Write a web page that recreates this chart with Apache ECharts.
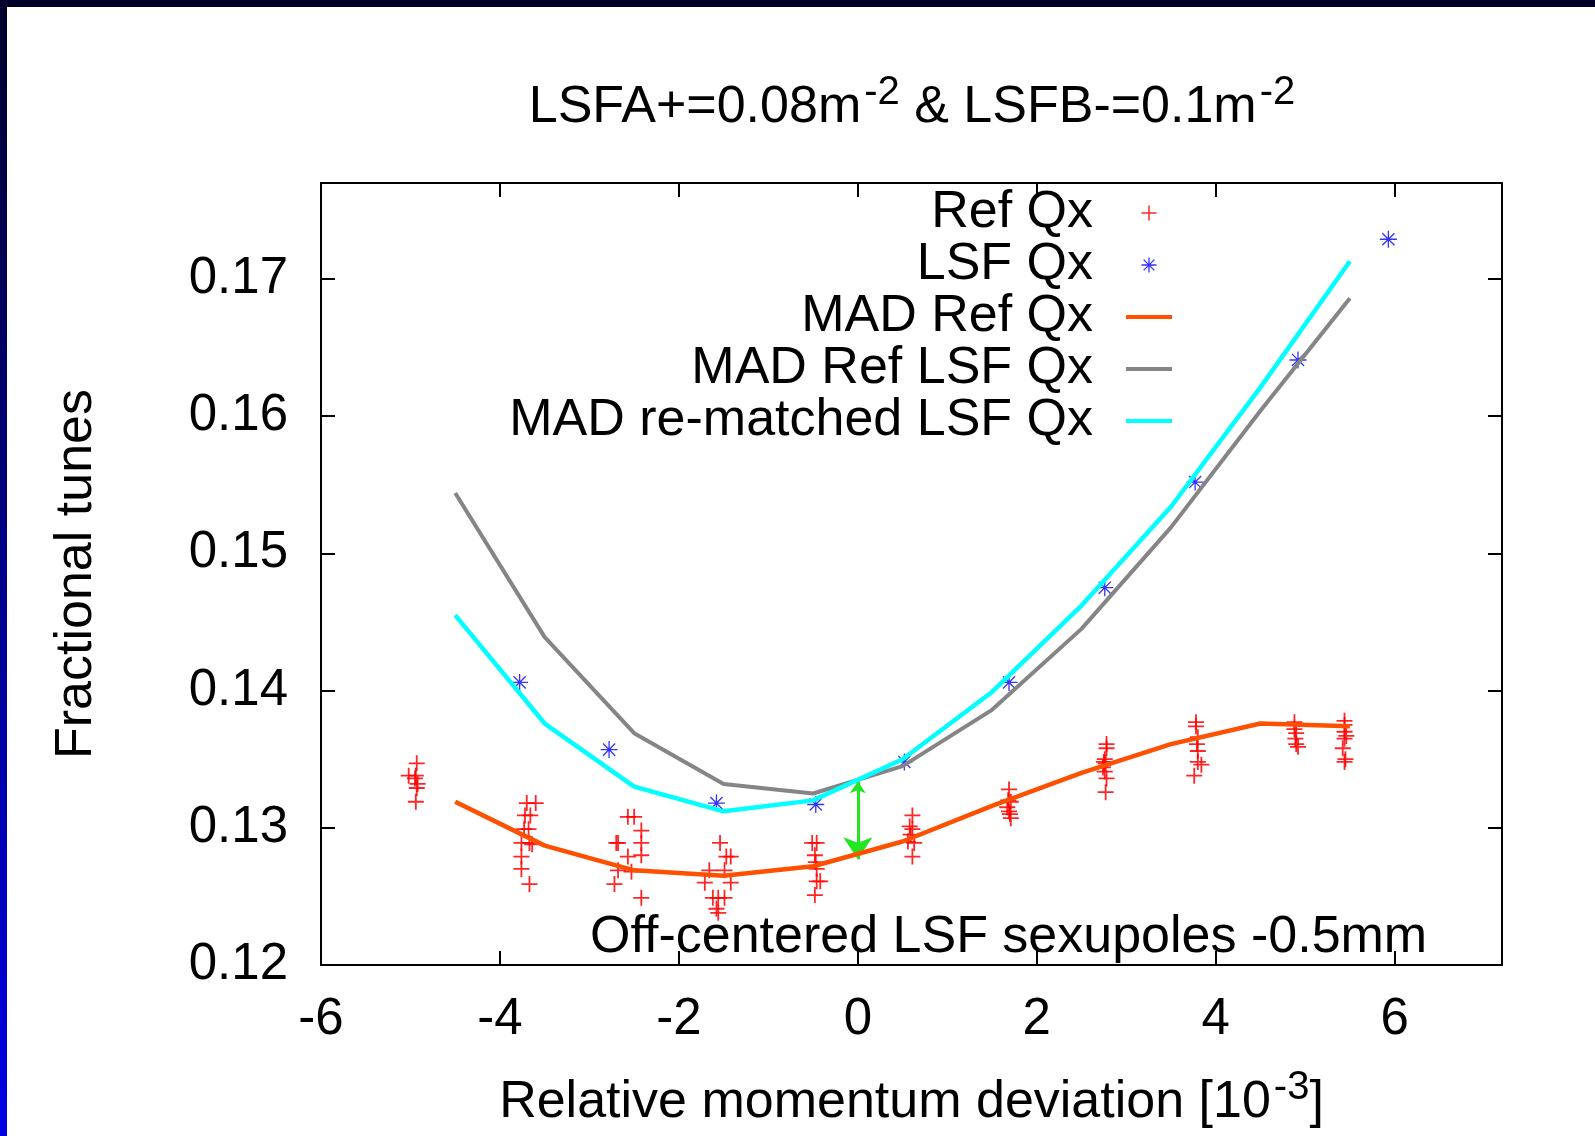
<!DOCTYPE html>
<html>
<head>
<meta charset="utf-8">
<title>LSF Qx</title>
<script src="https://cdn.jsdelivr.net/npm/echarts@6/dist/echarts.min.js"></script>
<style>
html, body { margin: 0; padding: 0; background: #fff; }
#chart { position: absolute; left: 0; top: 0; width: 1595px; height: 1136px; }
.band-top { position: absolute; left: 0; top: 0; width: 1595px; height: 7px; background: #00002b; z-index: 2; }
.band-left { position: absolute; left: 0; top: 0; width: 7px; height: 1136px; background: linear-gradient(#00002b, #0000e6); z-index: 2; }
</style>
</head>
<body>
<div id="chart"></div>
<div class="band-top"></div>
<div class="band-left"></div>
<script>
// momentum deviation of the MAD model points [10^-3]
const xModel = [-4.5, -3.5, -2.5, -1.5, -0.5, 0.5, 1.5, 2.5, 3.5, 4.5, 5.5];
const madRefQx = [0.1319, 0.1287, 0.1269, 0.1265, 0.1272, 0.1290, 0.1316, 0.1340, 0.1361, 0.1376, 0.1374];
const madRefLsfQx = [0.1544, 0.1439, 0.1369, 0.1332, 0.1325, 0.1345, 0.1386, 0.1445, 0.1519, 0.1604, 0.1686];
const madRematchedQx = [0.1455, 0.1376, 0.1330, 0.1312, 0.1320, 0.1350, 0.1399, 0.1462, 0.1534, 0.1621, 0.1713];

// measured LSF Qx
const lsfX = [-3.78, -2.78, -1.58, -0.47, 0.52, 1.69, 2.76, 3.77, 4.92, 5.93];
const lsfY = [0.1406, 0.1357, 0.1318, 0.1317, 0.1348, 0.1406, 0.1475, 0.1552, 0.1641, 0.1729];

// measured Ref Qx (several shots per momentum)
const refQx = [
  [-4.93, 0.1347], [-5.02, 0.1338], [-4.94, 0.1338], [-4.95, 0.1336], [-4.92, 0.1332], [-4.93, 0.1329], [-4.94, 0.1319],
  [-3.70, 0.1318], [-3.60, 0.1318], [-3.72, 0.1309], [-3.66, 0.1309], [-3.73, 0.1299], [-3.68, 0.1299], [-3.76, 0.1289],
  [-3.67, 0.1289], [-3.64, 0.1288], [-3.76, 0.1279], [-3.76, 0.1270], [-3.67, 0.1259],
  [-2.57, 0.1308], [-2.50, 0.1308], [-2.42, 0.1298], [-2.70, 0.1289], [-2.68, 0.1289], [-2.42, 0.1289], [-2.57, 0.1279],
  [-2.42, 0.1280], [-2.68, 0.1269], [-2.53, 0.1268], [-2.72, 0.1259], [-2.42, 0.1249],
  [-1.54, 0.1289], [-1.47, 0.1279], [-1.42, 0.1279], [-1.66, 0.1269], [-1.49, 0.1269], [-1.71, 0.1260], [-1.42, 0.1260],
  [-1.62, 0.1249], [-1.56, 0.1249], [-1.49, 0.1249], [-1.58, 0.1241], [-1.56, 0.1238],
  [-0.51, 0.1289], [-0.46, 0.1289], [-0.48, 0.1280], [-0.47, 0.1275], [-0.46, 0.1270], [-0.46, 0.1261], [-0.42, 0.1261], [-0.48, 0.1251],
  [0.61, 0.1309], [0.58, 0.1301], [0.61, 0.1299], [0.59, 0.1295], [0.56, 0.1290], [0.63, 0.1289], [0.61, 0.1279],
  [1.69, 0.1328], [1.68, 0.1320], [1.71, 0.1319], [1.67, 0.1315], [1.69, 0.1312], [1.70, 0.1310], [1.71, 0.1307],
  [2.78, 0.1361], [2.78, 0.1358], [2.76, 0.1350], [2.75, 0.1348], [2.77, 0.1347], [2.74, 0.1344], [2.76, 0.1341], [2.78, 0.1336], [2.77, 0.1326],
  [3.78, 0.1377], [3.78, 0.1374], [3.80, 0.1366], [3.79, 0.1361], [3.80, 0.1356], [3.80, 0.1348], [3.84, 0.1346], [3.76, 0.1338],
  [4.88, 0.1377], [4.88, 0.1372], [4.90, 0.1369], [4.89, 0.1365], [4.90, 0.1361], [4.92, 0.1359],
  [5.44, 0.1378], [5.44, 0.1375], [5.44, 0.1370], [5.46, 0.1367], [5.44, 0.1365], [5.42, 0.1358], [5.45, 0.1350], [5.44, 0.1348]
];

// green double arrow at x = 0
const arrowPts = [[0, 0.1334], [0, 0.1277]];

const FONT = 'Liberation Sans, Arial, Helvetica, sans-serif';
const PLUS = 'path://M0,7L14,7M7,0L7,14';
const STAR = 'path://M0,7L14,7M7,0L7,14M2,2L12,12M12,2L2,12';

const zip = (xs, ys) => xs.map((x, i) => [x, ys[i]]);

const chart = echarts.init(document.getElementById('chart'));

const frameAxis = {
  axisLine: { onZero: false, lineStyle: { color: '#000', width: 2 } },
  axisTick: { inside: true, length: 14, lineStyle: { color: '#000', width: 2 } },
  splitLine: { show: false }
};

const supStyle = { fontFamily: FONT, fontSize: 40, lineHeight: 20, verticalAlign: 'top', padding: [0, 0, 0, 3] };

const option = {
  backgroundColor: '#fff',
  animation: false,
  grid: { left: 321, right: 93, top: 183, bottom: 171, containLabel: false, outerBoundsMode: 'none' },
  graphic: [
    {
      type: 'text', x: 912, y: 108, z: 10,
      style: {
        text: 'LSFA+=0.08m{sup|-2} & LSFB-=0.1m{sup|-2}',
        fontFamily: FONT, fontSize: 52, lineHeight: 70, fill: '#000',
        align: 'center', verticalAlign: 'middle',
        rich: { sup: Object.assign({ fill: '#000' }, supStyle) }
      }
    },
    {
      type: 'text', x: 590, y: 938, z: 10,
      style: {
        text: 'Off-centered LSF sexupoles -0.5mm',
        fontFamily: FONT, fontSize: 52, fill: '#000',
        align: 'left', verticalAlign: 'middle'
      }
    }
  ],
  legend: {
    orient: 'vertical', right: 421, top: 187, padding: 0, itemGap: 0,
    itemWidth: 46, itemHeight: 15, align: 'right',
    textStyle: { fontFamily: FONT, fontSize: 52, color: '#000', lineHeight: 52, padding: [0, 28, 0, 0] },
    lineStyle: { width: 4 },
    data: [
      { name: 'Ref Qx', itemStyle: { borderWidth: 1.5, borderColor: '#ff0000' } },
      { name: 'LSF Qx', itemStyle: { borderWidth: 1.3, borderColor: '#0000ff' } },
      { name: 'MAD Ref Qx', itemStyle: { opacity: 0 } },
      { name: 'MAD Ref LSF Qx', itemStyle: { opacity: 0 } },
      { name: 'MAD re-matched LSF Qx', itemStyle: { opacity: 0 } }
    ]
  },
  xAxis: [
    Object.assign({
      type: 'value', min: -6, max: 7.2, interval: 2, position: 'bottom',
      axisLabel: { fontFamily: FONT, fontSize: 51, color: '#000', margin: 29, showMaxLabel: false, formatter: v => String(v) },
      name: 'Relative momentum deviation [10{sup|-3}]', nameLocation: 'middle', nameGap: 103,
      nameTextStyle: {
        fontFamily: FONT, fontSize: 52, color: '#000', lineHeight: 70,
        rich: { sup: Object.assign({ color: '#000' }, supStyle) }
      }
    }, frameAxis),
    Object.assign({
      type: 'value', min: -6, max: 7.2, interval: 2, position: 'top', axisLabel: { show: false }
    }, frameAxis)
  ],
  yAxis: [
    Object.assign({
      type: 'value', min: 0.12, max: 0.177, interval: 0.01, position: 'left',
      axisLabel: { fontFamily: FONT, fontSize: 51, color: '#000', margin: 33, showMaxLabel: false, formatter: v => v.toFixed(2) },
      name: 'Fractional tunes', nameLocation: 'middle', nameGap: 214,
      nameTextStyle: { fontFamily: FONT, fontSize: 52, color: '#000', lineHeight: 60 }
    }, frameAxis),
    Object.assign({
      type: 'value', min: 0.12, max: 0.177, interval: 0.01, position: 'right', axisLabel: { show: false }
    }, frameAxis)
  ],
  series: [
    {
      name: 'Ref Qx', type: 'scatter', data: refQx,
      symbol: PLUS, symbolSize: 16, symbolKeepAspect: true,
      itemStyle: { color: '#ff0000', borderColor: '#ff0000', borderWidth: 1.8, opacity: 0.85 }
    },
    {
      name: 'LSF Qx', type: 'scatter', data: zip(lsfX, lsfY),
      symbol: STAR, symbolSize: 17, symbolKeepAspect: true,
      itemStyle: { color: '#0000ff', borderColor: '#0000ff', borderWidth: 1.3 }
    },
    {
      name: 'MAD Ref Qx', type: 'line', data: zip(xModel, madRefQx),
      symbol: 'none', showSymbol: false, color: '#ff5000',
      lineStyle: { color: '#ff5000', width: 4.5 }
    },
    {
      name: 'MAD Ref LSF Qx', type: 'line', data: zip(xModel, madRefLsfQx),
      symbol: 'none', showSymbol: false, color: '#858585',
      lineStyle: { color: '#858585', width: 4 }
    },
    {
      name: 'MAD re-matched LSF Qx', type: 'line', data: zip(xModel, madRematchedQx),
      symbol: 'none', showSymbol: false, color: '#00ffff',
      lineStyle: { color: '#00ffff', width: 4.5 }
    },
    {
      name: 'arrow', type: 'lines', coordinateSystem: 'cartesian2d',
      symbol: ['arrow', 'arrow'], symbolSize: [12, 22],
      lineStyle: { color: '#22e622', width: 3, opacity: 1 },
      data: [{ coords: arrowPts }]
    }
  ]
};

chart.setOption(option);
</script>
</body>
</html>
